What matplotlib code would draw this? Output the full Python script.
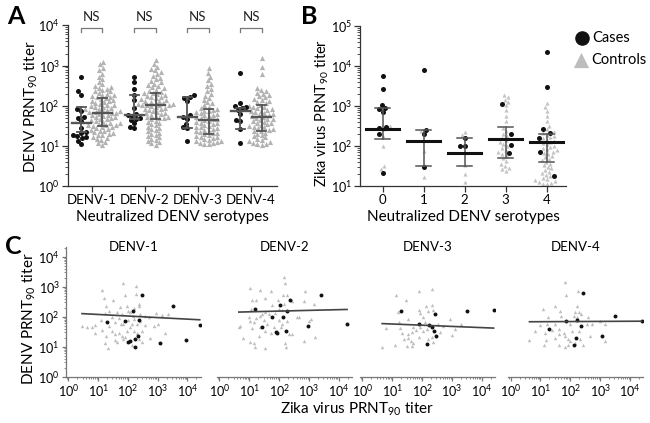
import numpy as np
import matplotlib
matplotlib.use('Agg')
import matplotlib.pyplot as plt
from matplotlib.ticker import LogLocator, NullFormatter

plt.rcParams['font.family'] = ['Lato', 'DejaVu Sans']
plt.rcParams['mathtext.fontset'] = 'custom'
plt.rcParams['mathtext.rm'] = 'Lato'
plt.rcParams['mathtext.it'] = 'Lato:italic'
plt.rcParams['mathtext.bf'] = 'Lato:bold'

# ---------------- DATA (log10 titers) ----------------
serotypes = ['DENV-1', 'DENV-2', 'DENV-3', 'DENV-4']

a_cases_d1 = [2.72, 2.36, 2.28, 1.92, 1.88, 1.72, 1.70, 1.62, 1.45, 1.35, 1.33, 1.27, 1.24, 1.21, 1.19, 1.12, 1.04]
a_cases_d2 = [2.72, 2.58, 2.42, 2.28, 2.15, 1.95, 1.80, 1.78, 1.75, 1.70, 1.67, 1.64, 1.56, 1.48, 1.44]
a_cases_d3 = [2.26, 2.22, 2.20, 2.12, 1.78, 1.72, 1.68, 1.55, 1.46, 1.44, 1.11]
a_cases_d4 = [2.81, 2.06, 1.99, 1.97, 1.94, 1.89, 1.80, 1.64, 1.62, 1.41, 1.06]

a_ctrl_d1 = [3.10, 3.03, 2.95, 2.88, 2.80, 2.72, 2.66, 2.60, 2.55, 2.50,
             2.47, 2.45, 2.42, 2.40, 2.38, 2.36, 2.33, 2.30, 2.28, 2.26, 2.24, 2.22, 2.21,
             2.19, 2.17, 2.15, 2.13, 2.11, 2.09, 2.07, 2.05, 2.03, 2.01, 2.00, 1.98, 1.96,
             1.95, 1.93, 1.91, 1.90, 1.88, 1.87, 1.85, 1.85,
             1.83, 1.82, 1.80, 1.78, 1.77, 1.75, 1.73, 1.72, 1.70, 1.68, 1.66, 1.64, 1.62,
             1.60, 1.58, 1.56, 1.55, 1.53, 1.52, 1.51, 1.50,
             1.48, 1.46, 1.44, 1.42, 1.40, 1.38, 1.36, 1.34, 1.32, 1.30, 1.28, 1.26, 1.23,
             1.20, 1.17, 1.14, 1.10, 1.06, 1.02]
a_ctrl_d2 = [3.15, 3.05, 2.97, 2.92, 2.88, 2.83, 2.78, 2.74, 2.70, 2.66, 2.62, 2.58, 2.55,
             2.52, 2.49, 2.46, 2.43, 2.40, 2.37, 2.35, 2.33,
             2.31, 2.29, 2.27, 2.25, 2.23, 2.21, 2.19, 2.17, 2.15, 2.13, 2.12, 2.10, 2.08,
             2.07, 2.05, 2.04, 2.03, 2.02, 2.02,
             2.01, 1.99, 1.97, 1.95, 1.93, 1.91, 1.89, 1.87, 1.85, 1.83, 1.81, 1.79, 1.77,
             1.75, 1.73, 1.71, 1.70, 1.69,
             1.66, 1.63, 1.60, 1.57, 1.54, 1.51, 1.48, 1.45, 1.42, 1.39, 1.36, 1.33, 1.30,
             1.27, 1.24, 1.21, 1.18, 1.15, 1.12, 1.09, 1.06, 1.03]
a_ctrl_d3 = [2.93, 2.82, 2.72, 2.63, 2.55, 2.48, 2.42, 2.36, 2.30, 2.25, 2.20, 2.15, 2.10,
             2.06, 2.02, 1.98, 1.95,
             1.92, 1.90, 1.88, 1.86, 1.84, 1.82, 1.80, 1.78, 1.76, 1.74, 1.72, 1.70, 1.68, 1.66,
             1.64, 1.62, 1.60, 1.58, 1.56, 1.54, 1.52, 1.50, 1.48, 1.46, 1.44, 1.42, 1.40,
             1.38, 1.36, 1.34, 1.32, 1.31,
             1.29, 1.27, 1.25, 1.23, 1.21, 1.19, 1.17, 1.15, 1.13, 1.11, 1.09, 1.07, 1.06,
             1.05, 1.04]
a_ctrl_d4 = [3.18, 2.97, 2.78, 2.45, 2.40, 2.36, 2.33, 2.30, 2.27, 2.24, 2.21, 2.18, 2.15,
             2.12, 2.09, 2.06, 2.03,
             2.00, 1.98, 1.96, 1.94, 1.92, 1.90, 1.88, 1.86, 1.84, 1.82, 1.80, 1.78, 1.76,
             1.74, 1.72,
             1.70, 1.68, 1.66, 1.64, 1.62, 1.60, 1.58, 1.56, 1.54, 1.52, 1.50, 1.48, 1.46,
             1.44, 1.42, 1.40, 1.38,
             1.36, 1.33, 1.30, 1.27, 1.24, 1.21, 1.18, 1.15, 1.12, 1.09, 1.07, 1.05, 1.04, 1.03]

a_case_median = [1.58, 1.78, 1.72, 1.86]
a_case_q1 = [1.35, 1.67, 1.45, 1.41]
a_case_q3 = [1.97, 2.27, 2.23, 1.94]
a_ctrl_median = [1.83, 2.02, 1.65, 1.71]
a_ctrl_q1 = [1.50, 1.68, 1.30, 1.375]
a_ctrl_q3 = [2.19, 2.32, 1.93, 2.01]
a_sig_labels = ['NS', 'NS', 'NS', 'NS']

b_groups = ['0', '1', '2', '3', '4']
b_cases_0 = [3.75, 3.42, 3.02, 2.95, 2.93, 2.86, 2.48, 2.45, 2.30, 1.33]
b_cases_1 = [3.89, 2.40, 2.29, 1.48]
b_cases_2 = [2.19, 2.01, 2.00]
b_cases_3 = [3.04, 2.29, 2.03, 1.83]
b_cases_4 = [4.36, 3.47, 2.43, 2.33, 2.20, 1.84, 1.26]
b_ctrl_0 = [2.50, 2.42, 2.25, 2.00, 1.50, 1.43]
b_ctrl_1 = [2.38, 1.88, 1.23]
b_ctrl_2 = [2.36, 2.28, 1.85, 1.52, 1.30, 1.10]
b_ctrl_3 = [3.28, 3.22, 3.15, 3.10, 3.02, 2.90, 2.75, 2.62, 2.45, 2.38, 2.30, 2.25, 2.20,
            2.15, 2.10, 2.05, 2.00, 1.95, 1.90, 1.85, 1.80, 1.75, 1.70, 1.62, 1.55, 1.50,
            1.45, 1.42, 1.38]
b_ctrl_4 = [3.08, 2.98, 2.88, 2.75, 2.62, 2.50, 2.42, 2.36, 2.32, 2.28, 2.25, 2.22, 2.19,
            2.16, 2.13, 2.10, 2.07, 2.04, 2.01, 1.98, 1.95, 1.92, 1.89, 1.86, 1.83, 1.80,
            1.76, 1.72, 1.68, 1.64, 1.60, 1.56, 1.52, 1.48, 1.44, 1.40, 1.36, 1.32, 1.28,
            1.24, 1.20, 1.17, 1.14, 1.12, 1.10, 1.08, 1.06, 1.05]
b_median = [2.43, 2.12, 1.82, 2.17, 2.10]
b_q1 = [2.17, 1.51, 1.50, 1.71, 1.61]
b_q3 = [2.94, 2.39, 2.19, 2.48, 2.30]

# Panel C: (Zika log10 titer, DENV log10 titer)
c1_case_zika = [2.47, 2.17, 3.53, 1.31, 1.89, 2.38, 4.41, 2.34, 2.25, 2.08, 2.02, 3.09, 3.95, 2.23]
c1_case_denv = [2.71, 2.20, 2.35, 1.83, 1.86, 1.89, 1.71, 1.35, 1.27, 1.19, 1.16, 1.12, 1.21, 1.00]
c1_ctrl_zika = [1.85, 2.27, 1.13, 1.89, 2.27, 1.19, 1.49, 2.36, 2.38, 1.27, 1.75, 1.97, 2.22, 2.08,
                1.63, 1.24, 1.80, 2.94, 3.14, 3.34, 2.41, 2.58, 1.46, 1.69, 2.00, 2.19, 2.70,
                1.09, 1.58, 0.90, 0.63, 0.80, 1.38, 1.77, 2.14, 2.56, 3.01, 2.08, 1.13, 1.46,
                1.97, 2.19, 2.47, 0.88, 1.69, 2.32, 3.26, 1.26, 1.80, 1.85, 1.56, 1.63, 2.75,
                2.38, 2.47, 2.14, 1.33, 1.22, 1.91, 1.58, 2.86, 1.99, 2.16, 1.36, 2.31, 2.41,
                1.85, 0.46]
c1_ctrl_denv = [3.11, 3.02, 2.88, 2.73, 2.77, 2.63, 2.54, 2.43, 2.37, 2.35, 2.32, 2.37, 2.29, 2.17,
                2.16, 2.11, 2.09, 2.11, 2.06, 2.09, 2.09, 2.02, 1.98, 1.94, 1.90, 1.92, 1.98,
                1.89, 1.81, 1.73, 1.67, 1.64, 1.69, 1.75, 1.75, 1.73, 1.75, 1.64, 1.55, 1.53,
                1.53, 1.53, 1.53, 1.46, 1.46, 1.47, 1.45, 1.34, 1.36, 1.24, 1.21, 1.16, 1.28,
                1.24, 1.16, 1.07, 0.94, 1.13, 1.32, 1.41, 1.69, 2.20, 2.03, 2.20, 1.75, 1.86,
                1.75, 1.70]
c2_case_zika = [3.40, 1.18, 2.35, 2.03, 2.25, 2.12, 1.77, 1.41, 1.90, 1.93, 2.24, 2.96, 4.28]
c2_case_denv = [2.71, 2.26, 2.56, 2.40, 2.20, 2.00, 1.98, 1.64, 1.49, 1.44, 1.53, 1.68, 1.77]
c2_ctrl_zika = [2.16, 2.21, 1.01, 1.37, 1.74, 2.88, 2.12, 2.26, 1.54, 1.09, 1.21, 1.97, 2.43, 2.82,
                3.16, 1.77, 2.16, 1.07, 1.99, 2.10, 1.54, 1.65, 1.43, 1.37, 1.87, 2.60, 2.68,
                0.98, 1.21, 1.48, 1.99, 3.08, 2.99, 1.01, 1.15, 1.60, 2.10, 2.26, 0.70, 0.65,
                1.09, 1.37, 1.82, 2.07, 1.54, 1.74, 2.32, 2.43, 1.31, 0.78, 3.21, 1.01, 1.15,
                2.19, 2.83, 1.18, 1.52, 2.23, 1.93]
c2_ctrl_denv = [3.31, 3.13, 2.94, 2.88, 2.86, 2.86, 2.71, 2.71, 2.63, 2.56, 2.56, 2.54, 2.52, 2.52,
                2.43, 2.40, 2.43, 2.26, 2.26, 2.23, 2.15, 2.09, 2.09, 2.03, 2.11, 2.00, 1.98,
                1.98, 1.95, 1.89, 1.89, 1.92, 1.84, 1.84, 1.81, 1.77, 1.77, 1.86, 1.69, 1.64,
                1.62, 1.66, 1.64, 1.66, 1.53, 1.44, 1.41, 1.41, 1.36, 1.28, 1.32, 1.16, 1.13,
                1.13, 1.19, 1.00, 0.96, 0.98, 1.53]
c3_case_zika = [1.30, 2.44, 3.52, 4.40, 1.90, 2.24, 2.34, 2.39, 2.48, 2.16]
c3_case_denv = [2.18, 2.08, 2.20, 2.23, 1.75, 1.73, 1.64, 1.53, 1.36, 1.10]
c3_ctrl_zika = [2.34, 1.88, 1.13, 1.47, 2.13, 2.32, 1.19, 1.88, 1.94, 2.21, 2.38, 2.04, 1.52, 2.93,
                3.32, 1.21, 2.10, 2.54, 2.71, 0.79, 1.27, 1.71, 1.79, 1.32, 1.66, 2.04, 2.60,
                3.10, 2.99, 1.52, 1.38, 1.52, 1.63, 1.71, 1.88, 2.21, 2.32, 2.38, 1.10, 1.49,
                1.66, 0.66, 1.93, 2.16]
c3_ctrl_denv = [2.92, 2.85, 2.71, 2.56, 2.34, 2.40, 2.17, 2.23, 2.11, 2.20, 2.23, 1.98, 1.92, 1.92,
                1.77, 1.81, 1.81, 1.75, 1.69, 1.62, 1.62, 1.64, 1.55, 1.47, 1.50, 1.53, 1.50,
                1.58, 1.39, 1.41, 1.24, 1.28, 1.19, 1.13, 1.32, 1.24, 1.32, 1.15, 1.07, 1.02,
                1.02, 0.98, 1.64, 1.58]
c4_case_zika = [2.44, 3.50, 4.39, 1.87, 2.22, 2.37, 1.28, 2.20, 3.06, 2.11]
c4_case_denv = [2.79, 2.03, 1.84, 1.86, 1.89, 1.69, 1.60, 1.30, 1.36, 1.05]
c4_ctrl_zika = [1.83, 1.87, 2.26, 1.48, 1.09, 2.22, 1.67, 2.17, 2.30, 2.37, 2.11, 2.22, 1.26, 1.70,
                2.61, 3.17, 3.00, 1.22, 1.50, 1.00, 2.00, 2.56, 2.74, 0.83, 1.14, 1.61, 1.78,
                2.06, 2.67, 1.50, 1.61, 1.83, 1.92, 2.00, 2.17, 2.33, 0.63, 1.17, 3.17, 1.11,
                1.61, 1.83, 1.94, 2.44, 2.30, 1.39]
c4_ctrl_denv = [3.16, 2.71, 2.86, 2.37, 2.26, 2.34, 2.20, 2.15, 2.15, 2.09, 2.03, 2.00, 2.00, 2.03,
                1.98, 1.77, 1.86, 1.77, 1.75, 1.73, 1.75, 1.75, 1.77, 1.53, 1.47, 1.58, 1.47,
                1.53, 1.36, 1.30, 1.41, 1.36, 1.24, 1.19, 1.13, 1.24, 1.21, 1.21, 1.19, 1.05,
                1.05, 0.98, 1.07, 1.05, 1.53, 1.55]
c_reg_slope = [-0.052, 0.024, -0.040, 0.005]
c_reg_intercept = [2.125, 2.137, 1.795, 1.827]

# ---------------- LAYOUT ----------------
W, H = 650, 423
fig = plt.figure(figsize=(6.5, 4.23), dpi=100)

def rect(l, t, r, b):
    return [l / W, 1 - b / H, (r - l) / W, (b - t) / H]

def swarm(vals_px, d):
    vals_px = np.asarray(vals_px, float)
    order = np.argsort(vals_px)
    placed = []
    offs = np.zeros(len(vals_px))
    for i in order:
        y = vals_px[i]
        ints = []
        for xo, yo in placed:
            dy = abs(y - yo)
            if dy < d:
                dx = np.sqrt(d * d - dy * dy)
                ints.append((xo - dx, xo + dx))
        cands = [0.0] + [a for a, b in ints] + [b for a, b in ints]
        cands.sort(key=lambda c: (abs(c), c))
        for c in cands:
            if all(not (a + 1e-6 < c < b - 1e-6) for a, b in ints):
                offs[i] = c
                break
        placed.append((offs[i], y))
    return offs

AX = '#333333'
GRAY = '#b3b3b3'
BAR = '#555555'

def style_axis(ax, size=9):
    for s in ['top', 'right']:
        ax.spines[s].set_visible(False)
    for s in ['left', 'bottom']:
        ax.spines[s].set_color(AX)
        ax.spines[s].set_linewidth(0.9)
    ax.tick_params(which='major', direction='out', length=4, width=0.9, color=AX,
                   labelsize=size, pad=2)
    ax.tick_params(which='minor', direction='out', length=2, width=0.6, color=AX)

# ---------------- PANEL A ----------------
axA = fig.add_axes(rect(68, 25.5, 277, 186))
axA.set_yscale('log')
axA.set_ylim(1, 1e4)
axA.set_xlim(0.55, 4.49)
pyA = (186 - 25.5) / 4.0
pxA = (277 - 68) / (4.49 - 0.55)
a_cases = [a_cases_d1, a_cases_d2, a_cases_d3, a_cases_d4]
a_ctrls = [a_ctrl_d1, a_ctrl_d2, a_ctrl_d3, a_ctrl_d4]
for i in range(4):
    pos = i + 1
    cv = np.array(a_cases[i])
    xo = swarm(cv * pyA, 4.6) / pxA
    axA.scatter(pos - 0.2 + xo, 10 ** cv, s=13, c='#111111', marker='o', lw=0, zorder=3)
    tv = np.array(a_ctrls[i])
    xo = swarm(tv * pyA, 4.4) / pxA
    axA.scatter(pos + 0.2 + xo, 10 ** tv, s=14, c=GRAY, marker='^', lw=0, zorder=2)
    for c, med, q1, q3 in [(pos - 0.2, a_case_median[i], a_case_q1[i], a_case_q3[i]),
                           (pos + 0.2, a_ctrl_median[i], a_ctrl_q1[i], a_ctrl_q3[i])]:
        axA.plot([c - 0.18, c + 0.18], [10 ** med] * 2, color=BAR, lw=1.7, zorder=4)
        axA.plot([c, c], [10 ** q1, 10 ** q3], color=BAR, lw=1.3, zorder=4)
        axA.plot([c - 0.085, c + 0.085], [10 ** q1] * 2, color=BAR, lw=1.3, zorder=4)
        axA.plot([c - 0.085, c + 0.085], [10 ** q3] * 2, color=BAR, lw=1.3, zorder=4)
    axA.plot([pos - 0.2, pos - 0.2, pos + 0.2, pos + 0.2],
             [10 ** 3.84, 10 ** 3.93, 10 ** 3.93, 10 ** 3.84], color='#777777', lw=0.9,
             clip_on=False)
    axA.text(pos, 10 ** 4.06, a_sig_labels[i], ha='center', va='bottom', fontsize=9.5,
             color='#222222')
axA.set_xticks([1, 2, 3, 4])
axA.set_xticklabels(serotypes)
axA.yaxis.set_major_locator(LogLocator(base=10, numticks=10))
axA.yaxis.set_minor_locator(LogLocator(base=10, subs=np.arange(2, 10), numticks=20))
axA.yaxis.set_minor_formatter(NullFormatter())
style_axis(axA)
axA.tick_params(axis='x', labelsize=9.5)

# ---------------- PANEL B ----------------
axB = fig.add_axes(rect(360, 26, 566, 186))
axB.set_yscale('log')
axB.set_ylim(10, 1e5)
axB.set_xlim(-0.55, 4.47)
pyB = (186 - 26) / 4.0
pxB = (566 - 360) / (4.47 + 0.55)
b_cases = [b_cases_0, b_cases_1, b_cases_2, b_cases_3, b_cases_4]
b_ctrls = [b_ctrl_0, b_ctrl_1, b_ctrl_2, b_ctrl_3, b_ctrl_4]
for i in range(5):
    cv = np.array(b_cases[i]); tv = np.array(b_ctrls[i])
    allv = np.concatenate([cv, tv])
    xo = swarm(allv * pyB, 4.2) / pxB
    n = len(cv)
    axB.scatter(i + xo[n:], 10 ** tv, s=9, c='#c4c4c4', marker='^', lw=0, zorder=2)
    axB.scatter(i + xo[:n], 10 ** cv, s=13, c='#111111', marker='o', lw=0, zorder=3)
    axB.plot([i, i], [10 ** b_q1[i], 10 ** b_q3[i]], color=BAR, lw=1.1, zorder=4)
    axB.plot([i - 0.18, i + 0.18], [10 ** b_q1[i]] * 2, color=BAR, lw=1.1, zorder=4)
    axB.plot([i - 0.18, i + 0.18], [10 ** b_q3[i]] * 2, color=BAR, lw=1.1, zorder=4)
    axB.plot([i - 0.4, i + 0.4], [10 ** b_median[i]] * 2, color='#111111', lw=2.2, zorder=5)
axB.set_xticks(range(5))
axB.set_xticklabels(b_groups)
axB.yaxis.set_major_locator(LogLocator(base=10, numticks=10))
axB.yaxis.set_minor_locator(LogLocator(base=10, subs=np.arange(2, 10), numticks=20))
axB.yaxis.set_minor_formatter(NullFormatter())
style_axis(axB)
axB.tick_params(axis='x', labelsize=9.5)
axB.tick_params(axis='y', pad=1.5)

# ---------------- PANEL C ----------------
c_case_z = [c1_case_zika, c2_case_zika, c3_case_zika, c4_case_zika]
c_case_d = [c1_case_denv, c2_case_denv, c3_case_denv, c4_case_denv]
c_ctrl_z = [c1_ctrl_zika, c2_ctrl_zika, c3_ctrl_zika, c4_ctrl_zika]
c_ctrl_d = [c1_ctrl_denv, c2_ctrl_denv, c3_ctrl_denv, c4_ctrl_denv]
c_lefts = [65.9, 217.1, 360.1, 508.3]
c_width = 135
for k in range(4):
    l = c_lefts[k]
    ax = fig.add_axes(rect(l, 246.7, l + c_width, 376.7))
    ax.set_xscale('log'); ax.set_yscale('log')
    ax.set_xlim(10 ** -0.08, 10 ** 4.45)
    ax.set_ylim(1, 10 ** 4.33)
    zx = np.array(c_ctrl_z[k]); dy = np.array(c_ctrl_d[k])
    ax.scatter(10 ** zx, 10 ** dy, s=6, c='#bdbdbd', marker='^', lw=0, zorder=2)
    zc = np.array(c_case_z[k]); dc = np.array(c_case_d[k])
    ax.scatter(10 ** zc, 10 ** dc, s=8, c='#111111', marker='o', lw=0, zorder=3)
    allz = np.concatenate([zx, zc])
    xl = np.array([allz.min(), allz.max()])
    ax.plot(10 ** xl, 10 ** (c_reg_intercept[k] + c_reg_slope[k] * xl), color='#444444',
            lw=1.2, zorder=4)
    ax.xaxis.set_major_locator(LogLocator(base=10, numticks=10))
    ax.xaxis.set_minor_locator(LogLocator(base=10, subs=np.arange(2, 10), numticks=20))
    ax.xaxis.set_minor_formatter(NullFormatter())
    ax.yaxis.set_major_locator(LogLocator(base=10, numticks=10))
    ax.yaxis.set_minor_locator(LogLocator(base=10, subs=np.arange(2, 10), numticks=20))
    ax.yaxis.set_minor_formatter(NullFormatter())
    style_axis(ax)
    ax.tick_params(which='major', length=3, pad=1.5)
    ax.tick_params(which='minor', length=1.5)
    if k > 0:
        ax.spines['left'].set_visible(False)
        ax.tick_params(axis='y', which='both', left=False, labelleft=False)
    ax.spines['bottom'].set_color('#777777')
    ax.spines['left'].set_color('#777777')
    ax.tick_params(which='both', color='#777777')

# ---------------- TEXT OVERLAY ----------------
ov = fig.add_axes([0, 0, 1, 1], zorder=10)
ov.set_xlim(0, W); ov.set_ylim(H, 0); ov.axis('off')
ov.text(16, 16, 'A', fontsize=18, fontweight='bold', ha='center', va='center')
ov.text(309, 16, 'B', fontsize=18, fontweight='bold', ha='center', va='center')
ov.text(13, 247, 'C', fontsize=18, fontweight='bold', ha='center', va='center')
ov.text(31, 107, 'DENV PRNT$_{90}$ titer', rotation=90, fontsize=11, ha='center', va='center')
ov.text(322, 113, 'Zika virus PRNT$_{90}$ titer', rotation=90, fontsize=10.5, ha='center',
        va='center')
ov.text(29, 319, 'DENV PRNT$_{90}$ titer', rotation=90, fontsize=11, ha='center', va='center')
ov.text(172, 217, 'Neutralized DENV serotypes', fontsize=11, ha='center', va='center')
ov.text(463, 217, 'Neutralized DENV serotypes', fontsize=11, ha='center', va='center')
ov.text(357, 409, 'Zika virus PRNT$_{90}$ titer', fontsize=11, ha='center', va='center')
for k, t in enumerate(serotypes):
    ov.text(c_lefts[k] + c_width / 2, 247, t, fontsize=9.5, ha='center', va='center')
ov.scatter([581.5], [38], s=110, c='#111111', marker='o', lw=0)
ov.scatter([580.5], [60], s=120, c='#bdbdbd', marker='^', lw=0)
ov.text(592, 38, 'Cases', fontsize=10.5, ha='left', va='center')
ov.text(591, 60, 'Controls', fontsize=10.5, ha='left', va='center')

fig.savefig('out.png', dpi=100)
